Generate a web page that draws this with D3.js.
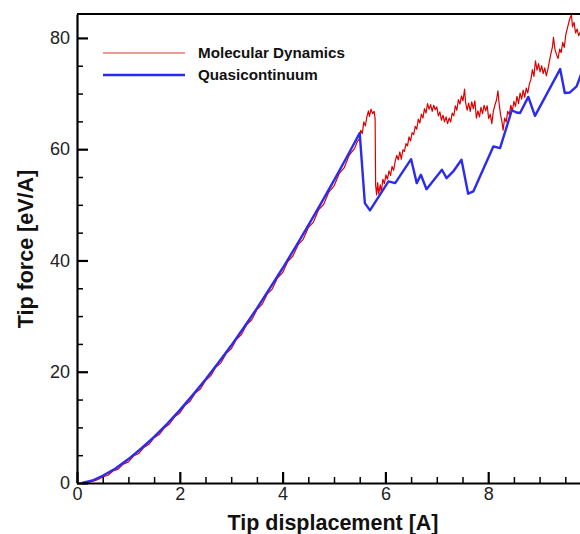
<!doctype html>
<html lang="en">
<head>
<meta charset="utf-8">
<title>Tip force vs tip displacement</title>
<script src="https://d3js.org/d3.v7.min.js"></script>
<style>
  body { margin: 0; background: #fff; }
  svg { display: block; font-family: "Liberation Sans", Arial, sans-serif; }
  .axis path, .axis line { stroke: #000; }
  .axis text { font-size: 18px; fill: #222; }
</style>
</head>
<body>
<div id="chart"></div>
<script>
// series names
var seriesNames = ["Molecular Dynamics", "Quasicontinuum"];

// Quasicontinuum
var qcX = [0.1, 0.3, 0.5, 0.75, 1, 1.25, 1.5, 1.75, 2, 2.25, 2.5, 2.75, 3, 3.25, 3.5, 3.75, 4, 4.25, 4.5, 4.75, 5, 5.25, 5.5,
  5.6, 5.7, 6.06, 6.19, 6.5, 6.61, 6.69, 6.8, 7.1, 7.19, 7.32, 7.48, 7.61, 7.71, 8.1, 8.23, 8.46, 8.55, 8.62, 8.78, 8.91, 9.4, 9.49, 9.59, 9.72, 9.85];
var qcY = [0, 0.45, 1.3, 2.6, 4.3, 6.2, 8.3, 10.6, 13.1, 15.8, 18.6, 21.6, 24.7, 28.0, 31.4, 35.0, 38.6, 42.4, 46.3, 50.3, 54.4, 58.6, 62.9,
  50.3, 49.0, 54.2, 53.9, 58.2, 53.9, 55.4, 52.8, 56.3, 54.8, 56.0, 58.1, 52.0, 52.4, 60.5, 60.2, 67.0, 66.6, 66.5, 69.4, 66.0, 74.4, 70.1, 70.2, 71.3, 74.5];

// Molecular dynamics (noisy trace)
var mdX = [0.1, 0.2, 0.3, 0.4, 0.5, 0.6, 0.7, 0.8, 0.9, 1.0, 1.1, 1.2, 1.3, 1.4, 1.5, 1.6, 1.7, 1.8, 1.9, 2.0,
  2.1, 2.2, 2.3, 2.4, 2.5, 2.6, 2.7, 2.8, 2.9, 3.0, 3.1, 3.2, 3.3, 3.4, 3.5, 3.6, 3.7, 3.8, 3.9, 4.0,
  4.1, 4.2, 4.3, 4.4, 4.5, 4.6, 4.7, 4.8, 4.9, 5.0, 5.1, 5.2, 5.3, 5.4, 5.45, 5.5,
  5.52, 5.55, 5.58, 5.61, 5.64, 5.67, 5.69, 5.72, 5.75, 5.78, 5.8, 5.81, 5.83, 5.85, 5.87, 5.9, 5.92, 5.95, 5.98,
  6.01, 6.04, 6.07, 6.1, 6.13, 6.16, 6.19, 6.22, 6.25, 6.28, 6.31, 6.34, 6.37, 6.4, 6.43, 6.46, 6.49, 6.52, 6.55, 6.58,
  6.61, 6.64, 6.67, 6.7, 6.73, 6.76, 6.79, 6.82, 6.85, 6.88, 6.91, 6.94, 6.97, 7.0, 7.03, 7.06, 7.09, 7.12, 7.15, 7.18,
  7.21, 7.24, 7.27, 7.3, 7.33, 7.36, 7.39, 7.42, 7.45, 7.48, 7.51, 7.54, 7.56, 7.59, 7.62, 7.65, 7.68, 7.71, 7.74, 7.77,
  7.8, 7.83, 7.86, 7.89, 7.92, 7.95, 7.98, 8.01, 8.04, 8.07, 8.1, 8.13, 8.16, 8.19, 8.21, 8.24, 8.27, 8.29, 8.32, 8.35,
  8.38, 8.41, 8.44, 8.47, 8.5, 8.53, 8.56, 8.59, 8.62, 8.65, 8.68, 8.71, 8.74, 8.77, 8.8, 8.83, 8.86, 8.89, 8.92, 8.95,
  8.98, 9.01, 9.04, 9.07, 9.1, 9.13, 9.16, 9.19, 9.22, 9.25, 9.27, 9.3, 9.33, 9.36, 9.39, 9.42, 9.45, 9.48, 9.51, 9.54,
  9.57, 9.6, 9.62, 9.64, 9.67, 9.7, 9.73, 9.76, 9.79, 9.82];
var mdY = [0, 0.05, 0.3, 0.6, 1.1, 1.4, 2.15, 2.5, 3.4, 3.8, 4.85, 5.3, 6.4, 6.95, 8.15, 8.7, 9.95, 10.6, 11.9, 12.6,
  13.95, 14.7, 16.15, 16.9, 18.4, 19.25, 20.8, 21.6, 23.25, 24.1, 25.8, 26.7, 28.45, 29.35, 31.15, 32.1, 33.95, 34.9, 36.85, 37.8,
  39.8, 40.8, 42.8, 43.8, 45.9, 46.9, 49.1, 50.1, 52.3, 53.4, 55.6, 56.7, 59.0, 60.1, 61.3, 61.9,
  63.4, 62.8, 64.9, 64.2, 65.8, 66.9, 65.9, 67.2, 66.4, 66.8, 65.5, 53.5, 51.8, 54.0, 52.0, 53.6, 52.3, 54.6, 53.8,
  55.4, 54.6, 56.1, 55.3, 56.9, 56.2, 57.8, 58.9, 58.1, 59.5, 58.2, 59.9, 59.6, 61.0, 60.6, 62.2, 61.5, 63.0, 62.6, 64.1,
  63.6, 65.4, 64.7, 66.3, 65.6, 67.3, 66.5, 68.2, 67.2, 68.0, 66.8, 67.9, 67.1, 67.6, 66.0, 66.7, 65.2, 66.1, 64.9, 65.8,
  64.6, 65.6, 64.9, 66.5, 66.0, 67.8, 67.0, 68.9, 68.1, 69.6, 68.7, 70.8, 68.4, 67.0, 68.3, 66.8, 68.5, 67.3, 68.7, 65.6,
  66.9, 65.8, 67.5, 66.4, 67.9, 66.9, 67.8, 65.5, 66.3, 64.6, 66.8, 67.9, 68.8, 70.5, 68.4, 66.2, 64.8, 63.4, 65.6, 64.9,
  66.8, 66.2, 67.9, 66.8, 68.6, 67.7, 69.5, 68.2, 70.1, 69.0, 70.6, 69.3, 71.0, 70.1, 71.7, 72.5, 74.3, 73.1, 75.9, 74.2,
  75.4, 73.9, 75.0, 73.6, 74.6, 73.2, 74.3, 75.8, 77.2, 78.4, 80.1, 77.9, 77.0, 76.3, 78.0, 77.4, 79.2, 78.3, 80.6, 81.7,
  82.9, 83.8, 84.1, 82.0, 82.8, 80.9, 81.6, 80.4, 81.0, 80.2];

var xTicks = [0, 2, 4, 6, 8];
var yTicks = [0, 20, 40, 60, 80];
var xMinor = [0.5, 1, 1.5, 2.5, 3, 3.5, 4.5, 5, 5.5, 6.5, 7, 7.5, 8.5, 9, 9.5];
var yMinor = [5, 10, 15, 25, 30, 35, 45, 50, 55, 65, 70, 75];

var W = 580, H = 534;
var pLeft = 77, pTop = 14, pBottom = 483, pRight = 591;

var svg = d3.select("#chart").append("svg")
  .attr("width", W).attr("height", H);

var x = d3.scaleLinear().domain([0, 10]).range([pLeft, pRight]);
var y = d3.scaleLinear().domain([0, 84.3]).range([pBottom, pTop]);

// data lines
var line = d3.line().x(function (d) { return x(d[0]); }).y(function (d) { return y(d[1]); });
var md = mdX.map(function (v, i) { return [v, mdY[i]]; });
var qc = qcX.map(function (v, i) { return [v, qcY[i]]; });

svg.append("path").datum(md).attr("d", line)
  .attr("fill", "none").attr("stroke", "#dd0000").attr("stroke-width", 1.2)
  .attr("stroke-linejoin", "round");
svg.append("path").datum(qc).attr("d", line)
  .attr("fill", "none").attr("stroke", "#2b2bf0").attr("stroke-width", 2.4)
  .attr("stroke-linejoin", "round");

// minor ticks
svg.append("g").attr("class", "axis").attr("transform", "translate(0," + pBottom + ")")
  .call(d3.axisBottom(x).tickValues(xMinor).tickSize(-6).tickFormat(""))
  .call(function (g) { g.select(".domain").remove(); g.selectAll("line").attr("stroke-width", 1.5); });
svg.append("g").attr("class", "axis").attr("transform", "translate(" + pLeft + ",0)")
  .call(d3.axisLeft(y).tickValues(yMinor).tickSize(-6).tickFormat(""))
  .call(function (g) { g.select(".domain").remove(); g.selectAll("line").attr("stroke-width", 1.5); });

// major axes
svg.append("g").attr("class", "axis").attr("transform", "translate(0," + pBottom + ")")
  .call(d3.axisBottom(x).tickValues(xTicks).tickSizeInner(-11).tickSizeOuter(0).tickPadding(4))
  .call(function (g) {
    g.select(".domain").attr("stroke-width", 2.2);
    g.selectAll("line").attr("stroke-width", 2.2);
  });
svg.append("g").attr("class", "axis").attr("transform", "translate(" + pLeft + ",0)")
  .call(d3.axisLeft(y).tickValues(yTicks).tickSizeInner(-11).tickSizeOuter(0).tickPadding(7))
  .call(function (g) {
    g.select(".domain").attr("stroke-width", 2.2);
    g.selectAll("line").attr("stroke-width", 2.2);
  });

// frame top and right
svg.append("line").attr("x1", pLeft).attr("x2", pRight).attr("y1", pTop).attr("y2", pTop)
  .attr("stroke", "#000").attr("stroke-width", 2.2);
svg.append("line").attr("x1", pRight).attr("x2", pRight).attr("y1", pTop).attr("y2", pBottom)
  .attr("stroke", "#000").attr("stroke-width", 2.2);

// axis titles
svg.append("text").attr("x", 333).attr("y", 530).attr("text-anchor", "middle")
  .attr("font-size", 21.5).attr("font-weight", "bold").attr("fill", "#111")
  .text("Tip displacement [A]");
svg.append("text").attr("transform", "translate(33,249) rotate(-90)").attr("text-anchor", "middle")
  .attr("font-size", 21.5).attr("font-weight", "bold").attr("fill", "#111")
  .text("Tip force [eV/A]");

// legend
var legColors = ["#dd3333", "#2b2bf0"];
var legWidths = [1, 2.4];
var leg = svg.append("g");
seriesNames.forEach(function (name, i) {
  var ly = 53 + i * 22;
  leg.append("line").attr("x1", 103).attr("x2", 185).attr("y1", ly).attr("y2", ly)
    .attr("stroke", legColors[i]).attr("stroke-width", legWidths[i]);
  leg.append("text").attr("x", 198).attr("y", ly + 5)
    .attr("font-size", 15.2).attr("font-weight", "bold").attr("fill", "#111")
    .text(name);
});
</script>
</body>
</html>
